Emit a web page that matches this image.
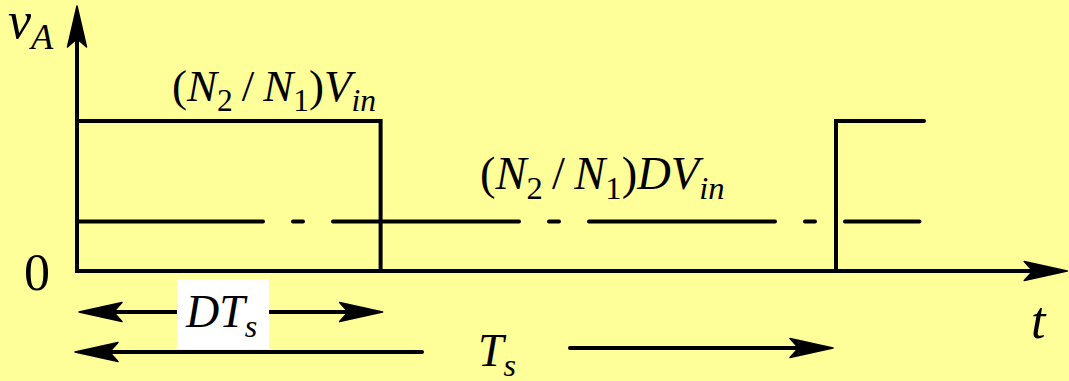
<!DOCTYPE html>
<html>
<head>
<meta charset="utf-8">
<script src="https://cdn.jsdelivr.net/npm/d3@7"></script>
<style>
  html, body { margin: 0; padding: 0; background: #ffff99; }
  svg { display: block; }
</style>
</head>
<body>
<div id="chart"></div>
<script>
// waveform of v_A over one switching period (time in units of Ts, level in units of (N2/N1)Vin)
const pulseTimes = [0, 0.4, 0.4, 1, 1, 1.116]
const pulseLevels = [1, 1, 0, 0, 1, 1]
const avgLevel = 0.33
const avgEnd = 1.11
const duty = 0.4
const axisEnd = 1.306

const width = 1069
const height = 381

const svg = d3
  .select('#chart')
  .append('svg')
  .attr('width', width)
  .attr('height', height)

svg
  .append('rect')
  .attr('width', width)
  .attr('height', height)
  .attr('fill', '#ffff99')

const xPositionScale = d3
  .scaleLinear()
  .domain([0, 1])
  .range([77, 836])

const yPositionScale = d3
  .scaleLinear()
  .domain([0, 1])
  .range([271, 121])

const line = d3
  .line()
  .x(d => d[0])
  .y(d => d[1])

// barbed arrow head, tip at (x, y) pointing at angle a
function arrowHead(x, y, a, len, half) {
  const c = Math.cos(a)
  const s = Math.sin(a)
  const pt = (u, v) => [x - u * c - v * s, y - u * s + v * c]
  const p = [pt(0, 0), pt(len, half), pt(len * 0.8, 0), pt(len, -half)]
  svg
    .append('path')
    .attr('d', 'M' + p.map(q => q.join(',')).join('L') + 'Z')
    .attr('fill', '#000')
    .attr('stroke', '#000')
    .attr('stroke-width', 1.5)
    .attr('stroke-linejoin', 'round')
}

// axes
const x0 = xPositionScale(0)
const y0 = yPositionScale(0)
svg
  .append('path')
  .attr('d', line([[x0, y0], [x0, 14]]))
  .attr('stroke', '#000')
  .attr('stroke-width', 4)
  .attr('fill', 'none')
arrowHead(x0, 6, -Math.PI / 2, 41, 9.5)

svg
  .append('path')
  .attr('d', line([[x0 - 2, y0], [xPositionScale(axisEnd) - 10, y0]]))
  .attr('stroke', '#000')
  .attr('stroke-width', 4)
  .attr('fill', 'none')
arrowHead(xPositionScale(axisEnd) - 1, y0, 0, 43, 9.5)

// pulse waveform
svg
  .append('path')
  .attr(
    'd',
    line(pulseTimes.map((t, i) => [xPositionScale(t), yPositionScale(pulseLevels[i])]))
  )
  .attr('stroke', '#000')
  .attr('stroke-width', 4)
  .attr('fill', 'none')
  .attr('stroke-linecap', 'round')

// average level, dash-dot
svg
  .append('path')
  .attr('d', line([[x0, yPositionScale(avgLevel)], [xPositionScale(avgEnd), yPositionScale(avgLevel)]]))
  .attr('stroke', '#000')
  .attr('stroke-width', 4)
  .attr('fill', 'none')
  .attr('stroke-linecap', 'round')
  .attr('stroke-dasharray', '186,30,10,30')

// DTs dimension arrow
const yD = 312
svg
  .append('path')
  .attr('d', line([[xPositionScale(0) + 10, yD], [xPositionScale(duty) - 10, yD]]))
  .attr('stroke', '#000')
  .attr('stroke-width', 4)
arrowHead(xPositionScale(0) + 2, yD, Math.PI, 43, 9.5)
arrowHead(xPositionScale(duty) + 2, yD, 0, 43, 9.5)

svg
  .append('rect')
  .attr('x', 177)
  .attr('y', 279)
  .attr('width', 92)
  .attr('height', 70)
  .attr('fill', '#fff')

// Ts dimension arrow (broken around label)
svg
  .append('path')
  .attr('d', line([[xPositionScale(0) + 8, 352], [422, 352]]))
  .attr('stroke', '#000')
  .attr('stroke-width', 4)
  .attr('stroke-linecap', 'round')
arrowHead(xPositionScale(0) - 2, 352, Math.PI, 43, 9.5)
svg
  .append('path')
  .attr('d', line([[570, 348], [xPositionScale(1) - 10, 348]]))
  .attr('stroke', '#000')
  .attr('stroke-width', 4)
  .attr('stroke-linecap', 'round')
arrowHead(xPositionScale(1) - 3, 348, 0, 43, 9.5)

// labels
function label(x, y, parts, size) {
  const t = svg
    .append('text')
    .attr('x', x)
    .attr('y', y)
    .style('font-family', 'Liberation Serif')
    .attr('font-size', size)
    .attr('fill', '#000')
  let shift = 0
  parts.forEach(p => {
    const dy = (p.sub ? 0.22 * size : 0) - shift
    shift += dy
    t.append('tspan')
      .attr('dy', dy)
      .attr('font-style', p.it ? 'italic' : 'normal')
      .attr('font-size', p.sub ? size * 0.7 : size)
      .text(p.s)
  })
  return t
}

label(8, 38, [{ s: 'v', it: true }, { s: 'A', it: true, sub: true }], 52)
label(24, 290, [{ s: '0' }], 52)
label(1031, 338, [{ s: 't', it: true }], 52)

const ratio = [
  { s: '(' },
  { s: 'N', it: true },
  { s: '2', sub: true },
  { s: '\u2009/\u2009' },
  { s: 'N', it: true },
  { s: '1', sub: true },
  { s: ')' }
]
label(172, 101, ratio.concat([{ s: 'V', it: true }, { s: 'in', it: true, sub: true }]), 45)
label(480, 189, ratio.concat([{ s: 'DV', it: true }, { s: 'in', it: true, sub: true }]), 46.5)

label(186, 327, [{ s: 'DT', it: true }, { s: 's', it: true, sub: true }], 46)
label(478, 366, [{ s: 'T', it: true }, { s: 's', it: true, sub: true }], 46)
</script>
</body>
</html>
